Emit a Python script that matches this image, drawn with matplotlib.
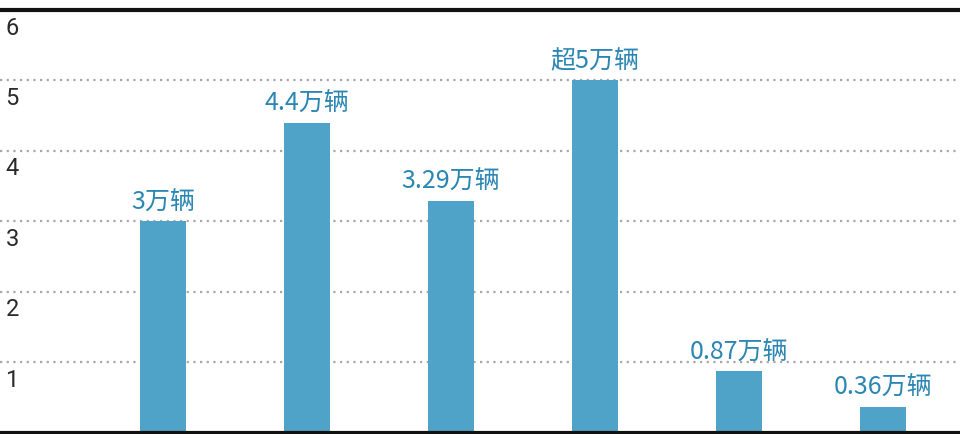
import matplotlib
matplotlib.use("Agg")
import matplotlib.pyplot as plt

plt.rcParams['font.family'] = ['Noto Sans CJK SC', 'DejaVu Sans']

# data (unit: 万辆)
positions = [0, 1, 2, 3, 4, 5]
values = [3, 4.4, 3.29, 5, 0.87, 0.36]
labels = ['3万辆', '4.4万辆', '3.29万辆', '超5万辆', '0.87万辆', '0.36万辆']
yticks = [1, 2, 3, 4, 5, 6]

bar_color = '#4fa3c9'
label_color = '#2a86b3'

fig = plt.figure(figsize=(9.6, 4.35), dpi=100)
ax = fig.add_axes([0, 1.5 / 435, 1, (433.5 - 11) / 435])

ax.set_xlim(-163 / 144, (960 - 163) / 144)
ax.set_ylim(0, 6)

# dotted grid lines, solid black one at the top
for t in yticks[:-1]:
    ax.axhline(t, color='#a8a8a8', linestyle=(0, (1, 2)), linewidth=1.6, zorder=1)
ax.axhline(6, color='#111111', linewidth=3, zorder=1, clip_on=False)

ax.bar(positions, values, width=0.315, color=bar_color, zorder=2)

for x, v, lab in zip(positions, values, labels):
    ax.annotate(lab, (x, v), xytext=(0, 5), textcoords='offset points',
                ha='center', va='bottom', fontsize=18, color=label_color)

# tick labels sit just under each grid line at the left edge
for t in yticks:
    ax.annotate(str(t), (0, t), xycoords=('axes fraction', 'data'),
                xytext=(4, -4), textcoords='offset points', ha='left', va='top',
                fontsize=17, color='#2a2a2a', family=['Roboto', 'DejaVu Sans'])

for s in ['top', 'left', 'right']:
    ax.spines[s].set_visible(False)
ax.spines['bottom'].set_linewidth(3)
ax.spines['bottom'].set_color('#111111')
ax.set_xticks([])
ax.set_yticks([])

fig.savefig('out.png', dpi=100)
